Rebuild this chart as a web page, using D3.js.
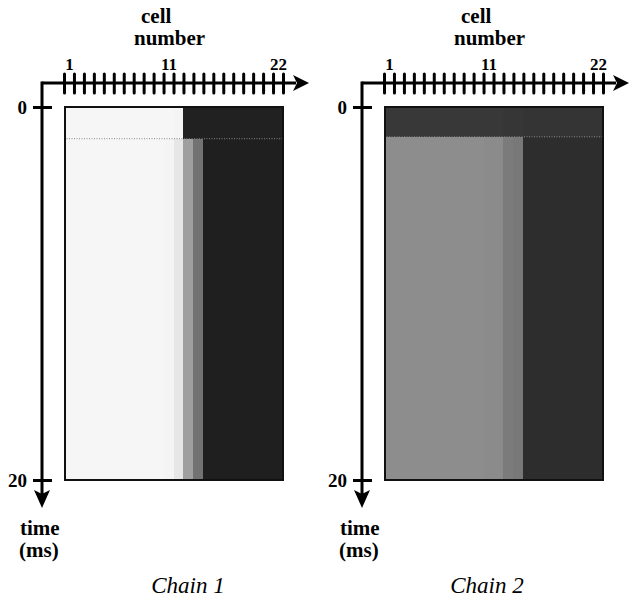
<!DOCTYPE html>
<html>
<head>
<meta charset="utf-8">
<script src="https://cdn.jsdelivr.net/npm/d3@7"></script>
<style>
  body { margin: 0; background: #fff; }
  svg { display: block; }
  svg text { font-family: "Liberation Serif", "Times New Roman", Times, "DejaVu Serif", "Noto Serif", serif; }
</style>
</head>
<body>
<script>
// cells along the chain, and the time range shown (ms)
cells = [1, 2, 3, 4, 5, 6, 7, 8, 9, 10, 11, 12, 13, 14, 15, 16, 17, 18, 19, 20, 21, 22]
cellLabels = [1, 11, 22]
timeTicks = [0, 20]
chains = ["Chain 1", "Chain 2"]

// time (ms) where the first phase ends, per chain
phaseSwitch = [1.7, 1.6]

// grey level of each cell (0 = black, 1 = white), first phase then rest
chain1Early = [0.98, 0.98, 0.98, 0.98, 0.98, 0.98, 0.98, 0.98, 0.98, 0.98, 0.98, 0.97, 0.05, 0.05, 0.05, 0.05, 0.05, 0.05, 0.05, 0.05, 0.05, 0.05]
chain1Late  = [0.98, 0.98, 0.98, 0.98, 0.98, 0.98, 0.98, 0.98, 0.98, 0.98, 0.97, 0.91, 0.6, 0.4, 0.04, 0.04, 0.04, 0.04, 0.04, 0.04, 0.04, 0.04]
chain2Early = [0.15, 0.15, 0.15, 0.15, 0.15, 0.15, 0.15, 0.15, 0.15, 0.15, 0.15, 0.15, 0.14, 0.14, 0.13, 0.13, 0.13, 0.13, 0.13, 0.13, 0.13, 0.13]
chain2Late  = [0.52, 0.52, 0.52, 0.52, 0.52, 0.52, 0.52, 0.52, 0.52, 0.52, 0.51, 0.51, 0.44, 0.43, 0.1, 0.1, 0.1, 0.1, 0.1, 0.1, 0.1, 0.1]

grey = [[chain1Early, chain1Late], [chain2Early, chain2Late]]

width = 642
height = 601
panelShift = 320
axisX = 42
axisY = 83
titleX = [188, 167]

x = d3.scaleLinear().domain([0.5, 22.5]).range([64, 283])
y = d3.scaleLinear().domain([0, 20]).range([107, 480])
shade = d3.scaleLinear().domain([0, 1]).range(["#161616", "#fbfbfb"])

const svg = d3.select("body").append("svg")
    .attr("width", width)
    .attr("height", height)

chains.forEach(function(name, c) {
  const g = svg.append("g")
      .attr("transform", `translate(${c * panelShift},0)`)

  // heat map cells, two phases
  const phases = [[0, phaseSwitch[c]], [phaseSwitch[c], 20]]
  phases.forEach(function([t0, t1], p) {
    g.append("g")
      .attr("shape-rendering", "crispEdges")
      .selectAll("rect")
      .data(cells)
      .join("rect")
        .attr("x", d => x(d - 0.5))
        .attr("width", d => x(d + 0.5) - x(d - 0.5))
        .attr("y", y(t0))
        .attr("height", y(t1) - y(t0))
        .attr("fill", (d, i) => shade(grey[c][p][i]))
  })

  // dotted line at phase change
  g.append("line")
      .attr("x1", x(0.5)).attr("x2", x(22.5))
      .attr("y1", y(phaseSwitch[c])).attr("y2", y(phaseSwitch[c]))
      .attr("stroke", "#888")
      .attr("stroke-width", 1)
      .attr("stroke-dasharray", "1,1.5")

  // frame
  g.append("rect")
      .attr("x", x(0.5) + 1)
      .attr("y", y(0))
      .attr("width", x(22.5) - x(0.5) - 1)
      .attr("height", y(20) - y(0))
      .attr("fill", "none")
      .attr("stroke", "#111")
      .attr("stroke-width", 2)

  // x axis: tick marks on cell borders
  const xTicks = g.append("g")
      .attr("transform", `translate(0,${axisY})`)
      .call(d3.axisTop(x).tickValues(d3.range(0.5, 23, 1)).tickSize(10).tickFormat(""))
  xTicks.select(".domain").remove()
  xTicks.selectAll(".tick line")
      .attr("y1", -9).attr("y2", 10)
      .attr("stroke", "#000")
      .attr("stroke-width", 3)
      .attr("stroke-linecap", "round")

  const xLab = g.append("g")
      .attr("transform", `translate(0,${axisY})`)
      .call(d3.axisTop(x).tickValues(cellLabels).tickSize(0).tickPadding(13))
  xLab.select(".domain").remove()
  xLab.attr("font-family", null)
  xLab.selectAll("text")
      .attr("font-weight", "bold")
      .attr("font-size", 17)
      .attr("fill", "#000")

  // y axis
  const yAx = g.append("g")
      .attr("transform", `translate(${axisX},0)`)
      .call(d3.axisLeft(y).tickValues(timeTicks).tickSize(9).tickPadding(6))
  yAx.select(".domain").remove()
  yAx.attr("font-family", null)
  yAx.selectAll(".tick line")
      .attr("x1", 10)
      .attr("stroke", "#000")
      .attr("stroke-width", 3)
  yAx.selectAll("text")
      .attr("font-weight", "bold")
      .attr("font-size", 19)
      .attr("fill", "#000")

  // axis lines with arrow heads
  g.append("path")
      .attr("d", `M${axisX},${axisY}H296`)
      .attr("stroke", "#000")
      .attr("stroke-width", 3)
      .attr("fill", "none")
  g.append("path")
      .attr("d", `M${axisX},${axisY - 1.5}V494`)
      .attr("stroke", "#000")
      .attr("stroke-width", 3)
      .attr("fill", "none")
  g.append("path")
      .attr("d", `M293,${axisY - 8}L309,${axisY}L293,${axisY + 8}L297,${axisY}Z`)
      .attr("fill", "#000")
  g.append("path")
      .attr("d", `M${axisX - 8},490L${axisX},508L${axisX + 8},490L${axisX},494Z`)
      .attr("fill", "#000")

  // axis titles
  const bold = [["cell", 141, 23], ["number", 134, 45], ["time", 20, 535], ["(ms)", 19, 557]]
  g.selectAll("text.title")
    .data(bold)
    .join("text")
      .attr("class", "title")
      .attr("x", d => d[1])
      .attr("y", d => d[2])
      .attr("font-weight", "bold")
      .attr("font-size", 21)
      .text(d => d[0])

  g.append("text")
      .attr("x", titleX[c])
      .attr("y", 593)
      .attr("text-anchor", "middle")
      .attr("font-style", "italic")
      .attr("font-size", 23)
      .text(name)
})
</script>
</body>
</html>
